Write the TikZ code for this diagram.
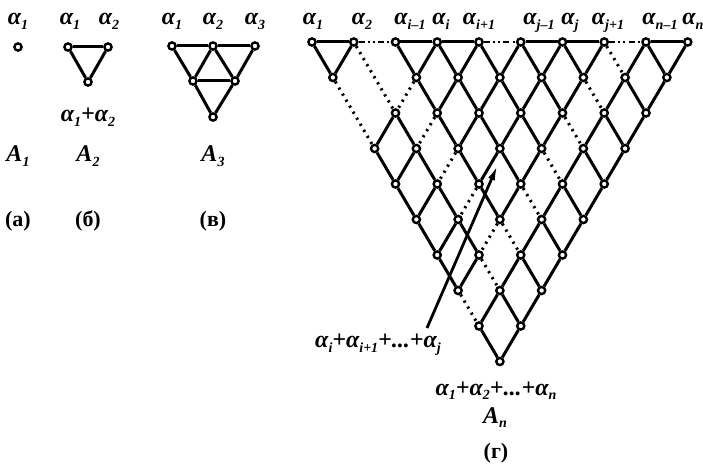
\documentclass[tikz,border=0pt]{standalone}
\usepackage{fontspec}
\setmainfont{Liberation Serif}
\usetikzlibrary{arrows.meta}

\newcommand{\idx}[1]{\raisebox{-0.4ex}{\fontsize{7}{8}\selectfont #1}}
\newcommand{\al}[1]{α\idx{#1}}

\begin{document}
\begin{tikzpicture}[
        x=0.5pt, y=-0.5pt,
        vtx/.style={circle, draw, fill=white, line width=1.2pt, inner sep=0pt, minimum size=3.6pt},
        edge/.style={line width=1.5pt},
        gap/.style={line width=1.5pt, dash pattern=on 1.1pt off 2.4pt},
        topgap/.style={line width=1.2pt, dash pattern=on 3pt off 1.6pt on 1pt off 1.6pt on 1pt off 1.6pt},
        lab/.style={font=\fontsize{12}{14}\selectfont\bfseries\itshape, inner sep=0pt},
        subcap/.style={font=\fontsize{11}{13}\selectfont\bfseries, inner sep=0pt},
        arr/.style={-{Latex[length=8pt, width=3.5pt]}, line width=1.4pt}]

      \useasboundingbox (0,0) rectangle (703,465);

      % (a)
      \node[vtx] (a1) at (18,47) {};
      \node[lab, anchor=base] (la1) at (18,25) {\al{1}};
      \node[lab, anchor=base] (namea) at (18,162) {A\idx{1}};
      \node[subcap] (capa) at (18,221) {(а)};

      % (б)
      \node[vtx] (b1) at (68,47) {};
      \node[vtx] (b2) at (108,47) {};
      \node[vtx] (b3) at (88,82) {};
      \draw[edge] (b1) -- (b2);
      \draw[edge] (b1) -- (b3);
      \draw[edge] (b2) -- (b3);
      \node[lab, anchor=base] (lb1) at (70,25) {\al{1}};
      \node[lab, anchor=base] (lb2) at (109,25) {\al{2}};
      \node[lab, anchor=base] (lb3) at (88,122) {\al{1}+\al{2}};
      \node[lab, anchor=base] (nameb) at (88,162) {A\idx{2}};
      \node[subcap] (capb) at (88,221) {(б)};

      % (в)
      \node[vtx] (c1) at (172,46) {};
      \node[vtx] (c2) at (213,46) {};
      \node[vtx] (c3) at (255,46) {};
      \node[vtx] (c4) at (193,81) {};
      \node[vtx] (c5) at (235,81) {};
      \node[vtx] (c6) at (213,117) {};
      \draw[edge] (c1) -- (c2) -- (c3);
      \draw[edge] (c4) -- (c5);
      \draw[edge] (c1) -- (c4) -- (c6);
      \draw[edge] (c2) -- (c5) -- (c6);
      \draw[edge] (c2) -- (c4);
      \draw[edge] (c3) -- (c5);
      \node[lab, anchor=base] (lc1) at (172,25) {\al{1}};
      \node[lab, anchor=base] (lc2) at (213,25) {\al{2}};
      \node[lab, anchor=base] (lc3) at (255,25) {\al{3}};
      \node[lab, anchor=base] (namec) at (213,162) {A\idx{3}};
      \node[subcap] (capc) at (213,221) {(в)};

      % (г): vertex v<a>-<b> stands for alpha_a + ... + alpha_b
      \foreach \a in {1,...,10}{
        \foreach \b in {\a,...,10}{
          \pgfmathtruncatemacro\skipit{(\b==3)&&(\a<3)}
          \ifnum\skipit=0
            \node[vtx] (v\a-\b) at ({312+(\a+\b-2)*20.875},{42+(\b-\a)*35.5}) {};
          \fi
        }
      }
      % down-right edges
      \foreach \a in {1,...,9}{
        \foreach \b in {\a,...,9}{
          \pgfmathtruncatemacro\nb{\b+1}
          \ifnum\b=8 \draw[gap] (v\a-\b) -- (v\a-\nb);
          \else\ifnum\b=2 \draw[gap] (v\a-\b) -- (v\a-4);
          \else\ifnum\b=3 \ifnum\a>2 \draw[edge] (v\a-\b) -- (v\a-\nb); \fi
          \else \draw[edge] (v\a-\b) -- (v\a-\nb);
          \fi\fi\fi
        }
      }
      % down-left edges
      \foreach \a in {2,...,10}{
        \foreach \b in {\a,...,10}{
          \pgfmathtruncatemacro\na{\a-1}
          \ifnum\b=3 \else
            \ifnum\a=3
              \ifnum\b<9 \draw[gap] (v\a-\b) -- (v\na-\b);
              \else \draw[edge] (v\a-\b) -- (v\na-\b); \fi
            \else \draw[edge] (v\a-\b) -- (v\na-\b); \fi
          \fi
        }
      }
      % top row
      \foreach \a/\c in {1/2,3/4,4/5,6/7,7/8,9/10}
        \draw[edge] (v\a-\a) -- (v\c-\c);
      \foreach \a/\c in {2/3,5/6,8/9}
        \draw[topgap] (v\a-\a) -- (v\c-\c);

      \node[lab, anchor=base] (t1)  at (313,25) {\al{1}};
      \node[lab, anchor=base] (t2)  at (362,25) {\al{2}};
      \node[lab, anchor=base] (t3)  at (410,25) {\al{i–1}};
      \node[lab, anchor=base] (t4)  at (441,25) {\al{i}};
      \node[lab, anchor=base] (t5)  at (479,25) {\al{i+1}};
      \node[lab, anchor=base] (t6)  at (539,25) {\al{j–1}};
      \node[lab, anchor=base] (t7)  at (570,25) {\al{j}};
      \node[lab, anchor=base] (t8)  at (608,25) {\al{j+1}};
      \node[lab, anchor=base] (t9)  at (660,25) {\al{n–1}};
      \node[lab, anchor=base] (t10) at (693,25) {\al{n}};

      \node[lab, anchor=base] (sumij) at (378,348) {\al{i}+\al{i+1}+...+\al{j}};
      \coordinate (tail) at (427,328);
      \draw[arr] (tail) -- ([shift={(-2,16)}]v4-7.center);

      \node[lab, anchor=base] (sumall) at (496,395) {\al{1}+\al{2}+...+\al{n}};
      \node[lab, anchor=base] (named) at (495,423) {A\idx{n}};
      \node[subcap] (capd) at (496,453) {(г)};
    \end{tikzpicture}
\end{document}
